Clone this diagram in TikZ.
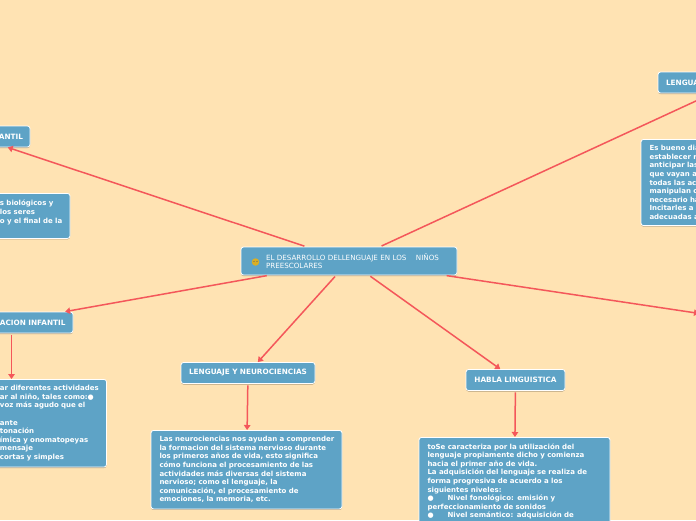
\documentclass[tikz,border=0pt]{standalone}
\usepackage{fontspec}
\setmainfont{DejaVu Sans}
\usetikzlibrary{positioning,arrows.meta,shadows}
\definecolor{fondo}{HTML}{FFE3B3}
\definecolor{caja}{HTML}{5EA3C6}
\definecolor{linea}{HTML}{F4575A}
\tikzset{
  cajita/.style={rectangle,rounded corners=2.5pt,draw=white,line width=0.8pt,fill=caja,text=white,
    drop shadow={shadow xshift=0pt,shadow yshift=-1pt,fill=black,opacity=0.3}},
  titulo/.style={cajita,font=\fontsize{7.3}{8.6}\selectfont\bfseries,minimum height=21pt,inner sep=0pt},
  cuerpo/.style={cajita,font=\fontsize{7}{8.6}\selectfont\bfseries,anchor=north,align=left,
    text width=#1,inner xsep=0pt,inner ysep=6pt},
  sangria/.style={execute at begin node={\leftskip=#1\relax}},
  conector/.style={-{Triangle[width=6.5pt,length=5pt]},line width=1.5pt,linea,shorten <=1.5pt},
}
\begin{document}
\begin{tikzpicture}[x=1pt,y=-1pt]
  \useasboundingbox (0,0) rectangle (696,520);
  \fill[fondo] (0,0) rectangle (696,520);
  \clip (0,0) rectangle (696,520);
  % central node
  \node[cajita,font=\fontsize{7.15}{8.2}\selectfont,text width=216pt,minimum height=28pt,inner sep=0pt,
    align=left,sangria=25pt] (main) at (349,261)
    {EL DESARROLLO DELLENGUAJE EN LOS\ \ \ \ NIÑOS\\PREESCOLARES};
  \node[circle,fill=yellow!55!orange!85!black,minimum size=7.5pt,inner sep=0pt] (carita) at (255.5,262) {};
  \fill[black!60] (254,261.5) circle (0.6) (257,261.5) circle (0.6);
  % branches, left
  \node[titulo,text width=110pt,align=right,execute at begin node={\rightskip=7pt\relax}] (inf) at (-25,136.5) {ANTIL};
  \node[cuerpo=190pt,sangria=120pt,minimum height=45pt] (inftxt) at (-25,193)
    {s biológicos y\\los seres\\o y el final de la\\~};
  \node[titulo,text width=138pt,align=right,execute at begin node={\rightskip=7.5pt\relax}] (edu) at (4,322.5) {ACION INFANTIL};
  \node[cuerpo=190pt,sangria=83.5pt] (edutxt) at (11.5,379)
    {ar diferentes actividades\\ar al niño, tales como:●\\voz más agudo que el\\~\\ante\\tonación\\ímica y onomatopeyas\\mensaje\\cortas y simples};
  % branches, bottom
  \node[titulo,text width=134pt,align=center] (neuro) at (248,373) {LENGUAJE Y NEUROCIENCIAS};
  \node[cuerpo=191pt,sangria=8.5pt] (neurotxt) at (246.5,430)
    {Las neurociencias nos ayudan a comprender\\la formacion del sistema nervioso durante\\los primeros años de vida, esto significa\\cómo funciona el procesamiento de las\\actividades más diversas del sistema\\nervioso; como el lenguaje, la\\comunicación, el procesamiento de\\emociones, la memoria, etc.};
  \node[titulo,text width=99pt,align=center] (habla) at (515.5,380) {HABLA LINGUISTICA};
  \node[cuerpo=191pt,sangria=8.5pt] (hablatxt) at (514.5,437)
    {toSe caracteriza por la utilización del\\lenguaje propiamente dicho y comienza\\hacia el primer año de vida.\\La adquisición del lenguaje se realiza de\\forma progresiva de acuerdo a los\\siguientes niveles:\\●\ \ \ \ \ \ Nivel fonológico: emisión y\\perfeccionamiento de sonidos\\●\ \ \ \ \ \ Nivel semántico: adquisición de};
  % branches, right
  \node[titulo,text width=156pt,align=left,sangria=8pt] (lang) at (736,82.5) {LENGUA};
  \node[cuerpo=191pt,sangria=8.5pt] (langtxt) at (736.5,139)
    {Es bueno dia\\establecer r\\anticipar las\\que vayan a\\todas las ac\\manipulan o\\necesario ha\\Incitarles a p\\adecuadas a};
  \coordinate (der) at (699,313.4);
  % connectors
  \foreach \dest in {inf,edu,neuro,habla,lang,der}
    \draw[conector] (main) -- (\dest);
  \draw[conector] (edu.south -| edutxt) -- (edutxt);
  \draw[conector] (neuro) -- (neurotxt);
  \draw[conector] (habla) -- (hablatxt);
\end{tikzpicture}
\end{document}
